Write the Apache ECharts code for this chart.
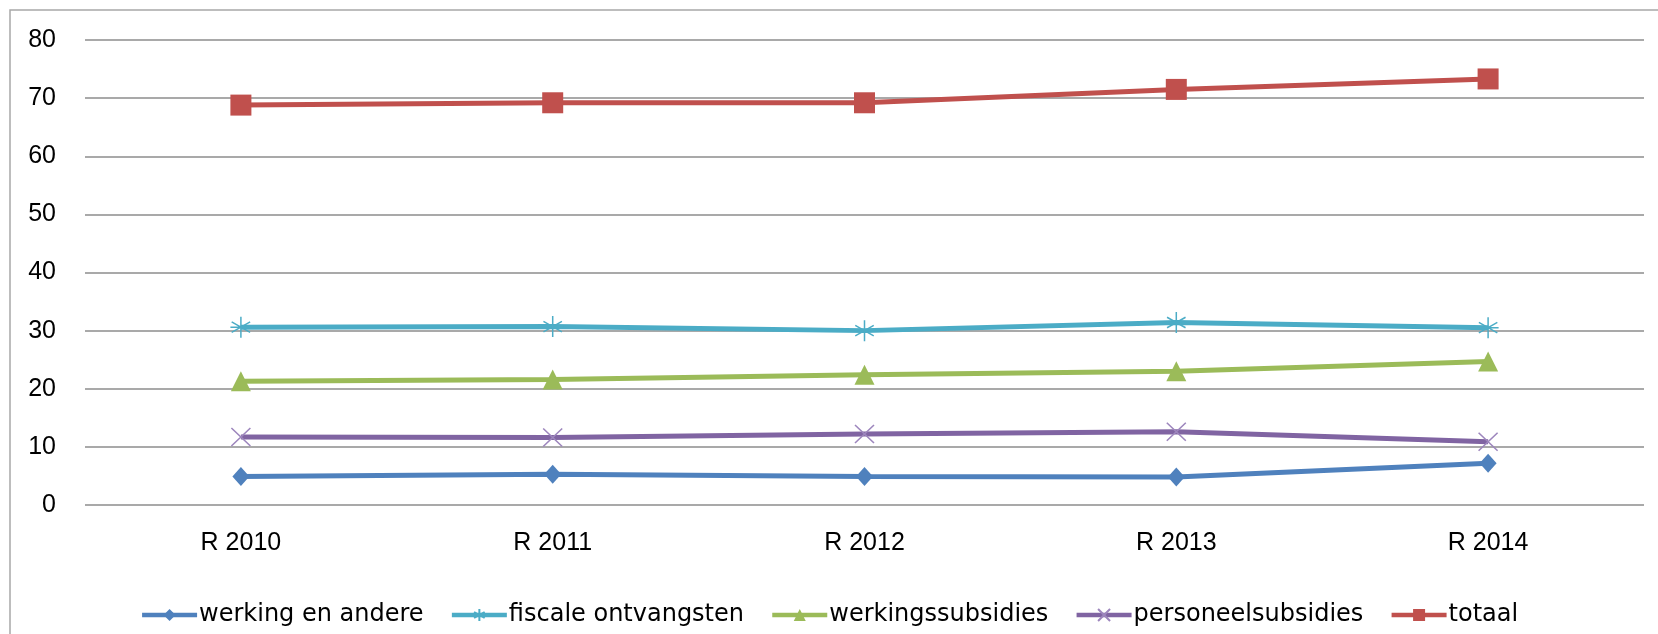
<!DOCTYPE html>
<html>
<head>
<meta charset="utf-8">
<script src="https://cdn.jsdelivr.net/npm/echarts@6/dist/echarts.min.js"></script>
<style>
html,body{margin:0;padding:0;background:#fff;}
#chart{width:1658px;height:634px;}
</style>
</head>
<body>
<div id="chart"></div>
<script>
const categories = ['R 2010', 'R 2011', 'R 2012', 'R 2013', 'R 2014'];
const werkingEnAndere = [4.9, 5.3, 4.9, 4.8, 7.2];
const fiscaleOntvangsten = [30.6, 30.7, 30.0, 31.4, 30.5];
const werkingssubsidies = [21.3, 21.6, 22.4, 23.0, 24.7];
const personeelsubsidies = [11.7, 11.6, 12.2, 12.6, 10.9];
const totaal = [68.8, 69.2, 69.2, 71.5, 73.3];
const seriesNames = ['werking en andere', 'fiscale ontvangsten', 'werkingssubsidies', 'personeelsubsidies', 'totaal'];
const yTicks = { min: 0, max: 80, interval: 10 };

const chart = echarts.init(document.getElementById('chart'));
const lineW = 5;
function lineSeries(name, data, color, symbol, size, itemStyle) {
  return {
    name: name, type: 'line', data: data,
    symbol: symbol, symbolSize: size,
    lineStyle: { color: color, width: lineW },
    itemStyle: itemStyle || { color: color },
    emphasis: { disabled: true },
    animation: false
  };
}
const starPath = 'path://M5,0L5,10M0.6,2.5L9.4,7.5M9.4,2.5L0.6,7.5M0,5L10,5';
const xPath = 'path://M0,0L10,10M10,0L0,10';

chart.setOption({
  animation: false,
  grid: { left: 85, right: 14, top: 40, bottom: 129, containLabel: false },
  graphic: [{
    type: 'rect', silent: true,
    shape: { x: 10, y: 10, width: 1700, height: 700 },
    style: { fill: 'none', stroke: '#a8a8a8', lineWidth: 1.5 }
  }],
  legend: {
    data: seriesNames,
    top: 598, left: 'center',
    itemWidth: 55, itemHeight: 15, itemGap: 26,
    lineStyle: { width: 4.5 },
    textStyle: { fontFamily: 'DejaVu Sans', fontSize: 24, color: '#000', padding: [0, 0, 0, -3] }
  },
  xAxis: {
    type: 'category', data: categories, boundaryGap: true,
    axisLine: { show: false }, axisTick: { show: false },
    axisLabel: { fontFamily: 'Liberation Sans', fontSize: 25, color: '#000', margin: 26 }
  },
  yAxis: {
    type: 'value', min: yTicks.min, max: yTicks.max, interval: yTicks.interval,
    axisLine: { show: false }, axisTick: { show: false },
    axisLabel: { fontFamily: 'Liberation Sans', fontSize: 25, color: '#000', margin: 29 },
    splitLine: { lineStyle: { color: '#8c8c8c', width: 1.5 } }
  },
  series: [
    lineSeries(seriesNames[0], werkingEnAndere, '#4f81bd', 'diamond', [17, 19]),
    lineSeries(seriesNames[1], fiscaleOntvangsten, '#4bacc6', starPath, 21,
      { color: 'transparent', borderColor: '#4bacc6', borderWidth: 1.5 }),
    lineSeries(seriesNames[2], werkingssubsidies, '#9bbb59', 'triangle', [20, 20]),
    lineSeries(seriesNames[3], personeelsubsidies, '#8064a2', xPath, [19, 18],
      { color: 'transparent', borderColor: '#9d86bd', borderWidth: 1.5 }),
    lineSeries(seriesNames[4], totaal, '#c0504d', 'rect', [21, 21])
  ]
});
</script>
</body>
</html>
